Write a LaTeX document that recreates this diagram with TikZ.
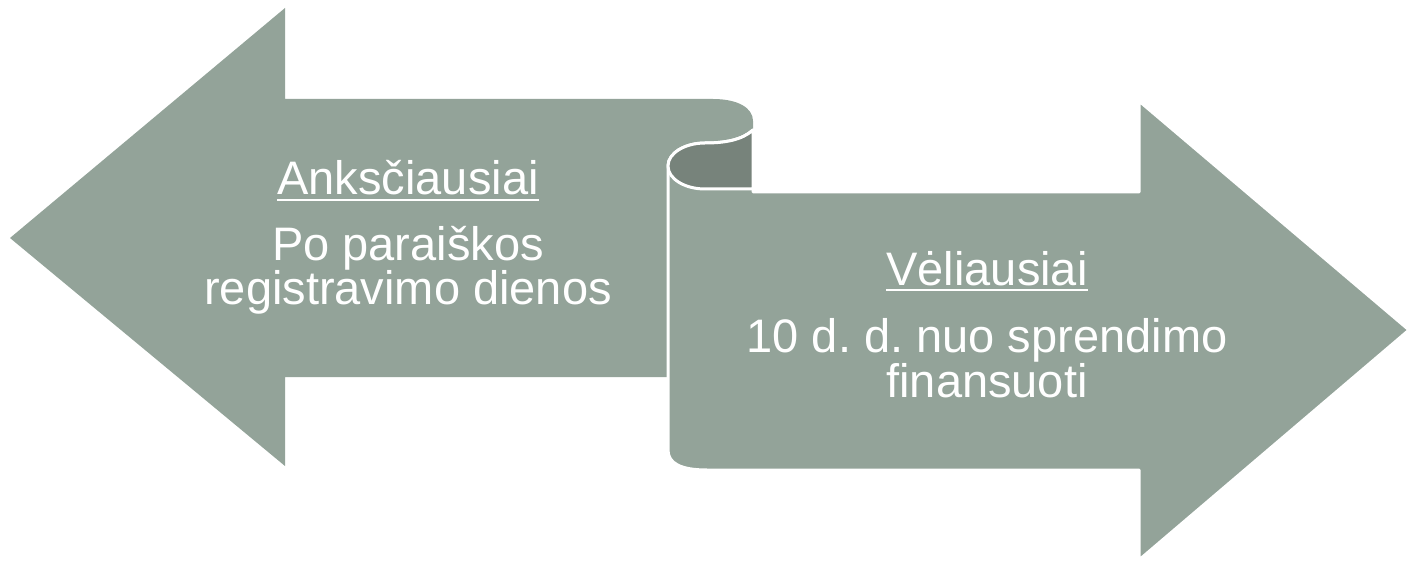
\documentclass[tikz,border=0pt]{standalone}
\usepackage{fontspec}
\setmainfont{Liberation Sans}
\frenchspacing
\tikzstyle{arrowfill} = [fill=color1]
\tikzstyle{rollfill} = [
    arrowfill,
    draw=white,
    line width=3pt,
    line join=round,
]
\tikzstyle{curlfill} = [rollfill, fill=color1dark]
\tikzstyle{txt} = [
    text=white,
    align=center,
    anchor=base,
    font=\fontsize{47}{43}\selectfont,
]
\definecolor{color1}{HTML}{93A399}
\definecolor{color1dark}{HTML}{77837B}
\newcommand{\undertext}[1]{\setbox0=\hbox{#1}\rlap{\vrule height -4pt depth 6.5pt width \wd0}\box0}

\begin{document}
\begin{tikzpicture}[x=1pt,y=-1pt]
    \useasboundingbox (0,0) rectangle (1410,561);
    % left arrow
    \path [arrowfill] (10,238) -- (285,8) -- (285,99) -- (713,99)
        .. controls (738,99) and (753,108) .. (753,121) -- (753,192)
        -- (690,192) -- (690,377) -- (285,377) -- (285,466) -- cycle;
    % right arrow with the curl
    \path [rollfill] (753,130) .. controls (742,140) and (725,143) .. (705,143)
        .. controls (685,143) and (668,153) .. (668,166)
        -- (668,450) .. controls (668,463) and (680,470) .. (707,470)
        -- (1139,470) -- (1139,560) -- (1409,330) -- (1139,101)
        -- (1139,192) -- (753,192) -- cycle;
    \path [curlfill] (753,130) .. controls (742,140) and (725,143) .. (705,143)
        .. controls (685,143) and (668,153) .. (668,166)
        .. controls (668,179) and (685,189) .. (705,189) -- (753,189) -- cycle;

    \node (an) [txt] at (408,195) {\undertext{Anksčiausiai}};
    \node (po) [txt] at (408,305) {Po paraiškos\\registravimo dienos};
    \node (ve) [txt] at (987,285) {\undertext{Vėliausiai}};
    \node (nu) [txt] at (987,397) {10 d. d. nuo sprendimo\\finansuoti};
\end{tikzpicture}
\end{document}
